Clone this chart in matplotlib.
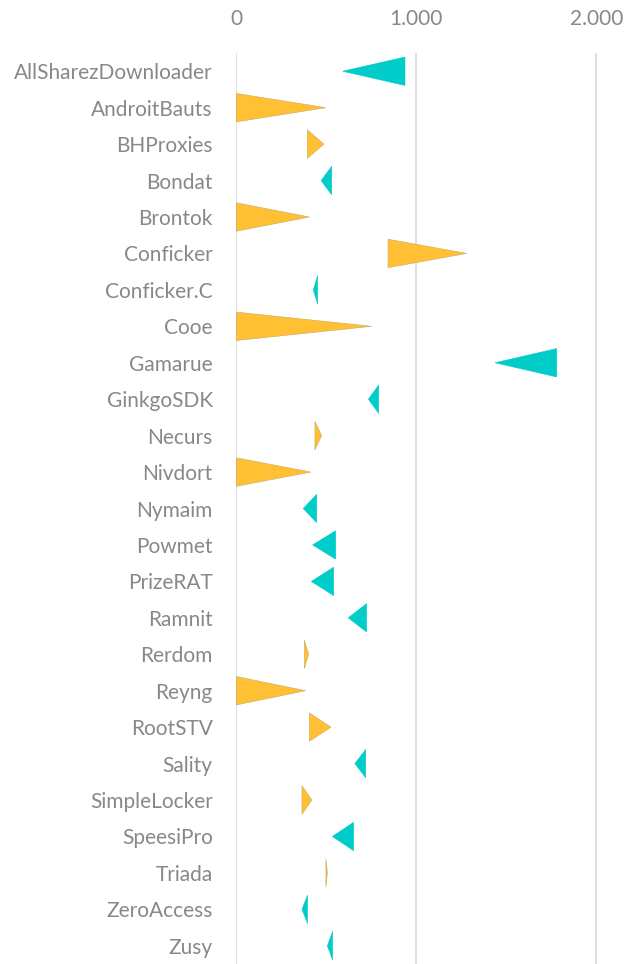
import matplotlib.pyplot as plt
from matplotlib.ticker import FuncFormatter

# Familias de malware
familias = ["AllSharezDownloader", "AndroitBauts", "BHProxies", "Bondat", "Brontok",
            "Conficker", "Conficker.C", "Cooe", "Gamarue", "GinkgoSDK", "Necurs",
            "Nivdort", "Nymaim", "Powmet", "PrizeRAT", "Ramnit", "Rerdom", "Reyng",
            "RootSTV", "Sality", "SimpleLocker", "SpeesiPro", "Triada", "ZeroAccess", "Zusy"]

# Valor inicial (base del triángulo) y final (punta)
inicio = [937, 0, 395, 530, 0, 843, 452, 0, 1780, 791, 437, 0, 447, 552, 541,
          724, 378, 0, 406, 719, 365, 652, 498, 396, 535]
fin = [591, 498, 487, 471, 406, 1280, 428, 752, 1437, 734, 474, 415, 372, 424, 417,
       622, 402, 385, 526, 659, 420, 534, 506, 365, 506]

ticks = [0, 1000, 2000]

COLOR_SUBE = "#FFC034"
COLOR_BAJA = "#00CCC9"
COLOR_TEXTO = "#888888"

plt.rcParams['font.family'] = ['Lato', 'DejaVu Sans']

fig = plt.figure(figsize=(6.42, 9.64), dpi=100)
ax = fig.add_axes([0.368, 0.0, 0.617, 0.945])

media_altura = 0.39
for i, (a, b) in enumerate(zip(inicio, fin)):
    color = COLOR_SUBE if b >= a else COLOR_BAJA
    borde = "#C8A860" if b >= a else COLOR_BAJA
    ax.fill([a, a, b], [i - media_altura, i + media_altura, i],
            facecolor=color, edgecolor=borde, linewidth=0.4, zorder=3)

for t in ticks:
    ax.axvline(t, color="#E0E0E0", linewidth=1.5, zorder=1)

ax.set_xlim(0, 2200)
ax.set_ylim(len(familias) - 0.5, -0.5)
ax.set_yticks(range(len(familias)))
ax.set_yticklabels(familias)
ax.set_xticks(ticks)
ax.xaxis.set_major_formatter(FuncFormatter(lambda v, p: f"{int(v):,}".replace(",", ".")))
ax.xaxis.tick_top()

ax.tick_params(axis='y', length=0, pad=17, labelsize=15, labelcolor=COLOR_TEXTO)
ax.tick_params(axis='x', length=0, pad=17, labelsize=15, labelcolor=COLOR_TEXTO)

for s in ax.spines.values():
    s.set_visible(False)

plt.savefig("out.png", dpi=100)
